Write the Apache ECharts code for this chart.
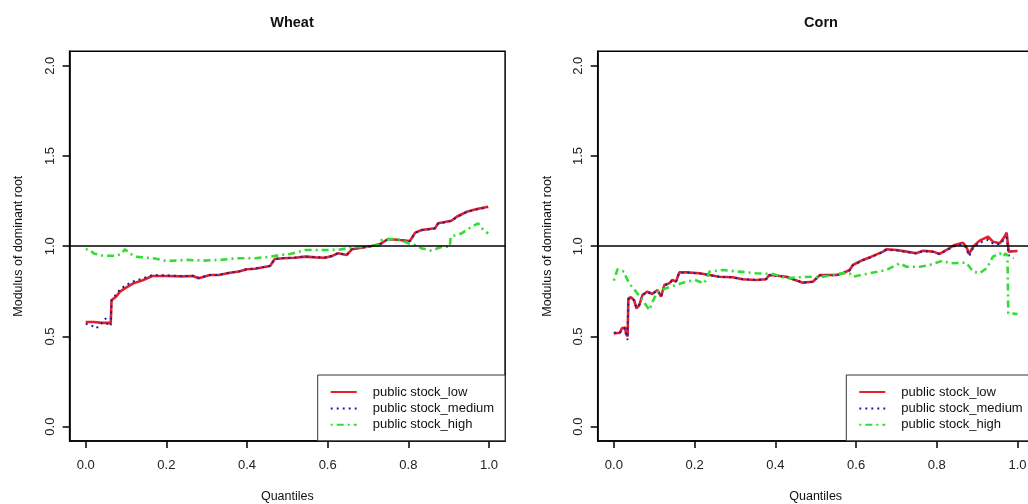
<!DOCTYPE html>
<html>
<head>
<meta charset="utf-8">
<script src="https://cdn.jsdelivr.net/npm/echarts@6/dist/echarts.min.js"></script>
<style>
  html, body { margin: 0; padding: 0; background: #fff; }
  #main { width: 1028px; height: 504px; }
</style>
</head>
<body>
<div id="main"></div>
<script>
// tick positions
var xTicks = [0, 0.2, 0.4, 0.6, 0.8, 1.0];
var yTicks = [0, 0.5, 1.0, 1.5, 2.0];
var seriesNames = ['public stock_low', 'public stock_medium', 'public stock_high'];

// Wheat panel
var wheatLowQ = [0, 0.02, 0.04, 0.062, 0.064, 0.075, 0.085, 0.10, 0.118, 0.14, 0.165, 0.20, 0.24, 0.266, 0.28, 0.308, 0.33, 0.358, 0.38, 0.40, 0.42, 0.44, 0.457, 0.469, 0.49, 0.52, 0.544, 0.57, 0.593, 0.61, 0.626, 0.647, 0.66, 0.68, 0.709, 0.73, 0.75, 0.779, 0.804, 0.817, 0.833, 0.866, 0.874, 0.907, 0.92, 0.945, 0.97, 0.998];
var wheatLowV = [0.58, 0.58, 0.575, 0.575, 0.70, 0.72, 0.748, 0.77, 0.794, 0.81, 0.835, 0.835, 0.833, 0.835, 0.822, 0.84, 0.84, 0.853, 0.86, 0.872, 0.875, 0.883, 0.89, 0.929, 0.933, 0.936, 0.942, 0.938, 0.936, 0.945, 0.961, 0.951, 0.983, 0.99, 1.001, 1.012, 1.04, 1.034, 1.029, 1.075, 1.09, 1.099, 1.127, 1.141, 1.163, 1.191, 1.206, 1.219];

var wheatMedQ = [0, 0.015, 0.025, 0.035, 0.045, 0.05, 0.055, 0.062, 0.064, 0.085, 0.10, 0.118, 0.14, 0.165, 0.20, 0.24, 0.266, 0.28, 0.308, 0.33, 0.358, 0.38, 0.40, 0.42, 0.44, 0.457, 0.469, 0.49, 0.52, 0.544, 0.57, 0.593, 0.61, 0.626, 0.647, 0.66, 0.68, 0.709, 0.73, 0.75, 0.779, 0.804, 0.817, 0.833, 0.866, 0.874, 0.907, 0.92, 0.945, 0.97, 0.998];
var wheatMedV = [0.57, 0.56, 0.545, 0.56, 0.59, 0.60, 0.56, 0.56, 0.70, 0.76, 0.785, 0.805, 0.82, 0.84, 0.838, 0.834, 0.836, 0.824, 0.841, 0.841, 0.854, 0.861, 0.873, 0.876, 0.884, 0.891, 0.93, 0.934, 0.937, 0.943, 0.939, 0.937, 0.946, 0.962, 0.952, 0.984, 0.991, 1.0, 1.011, 1.039, 1.033, 1.028, 1.074, 1.089, 1.098, 1.125, 1.14, 1.161, 1.19, 1.204, 1.215];

var wheatHighQ = [0, 0.01, 0.02, 0.03, 0.044, 0.077, 0.09, 0.097, 0.11, 0.122, 0.168, 0.2, 0.25, 0.29, 0.333, 0.374, 0.42, 0.457, 0.482, 0.507, 0.544, 0.593, 0.626, 0.664, 0.7, 0.725, 0.734, 0.76, 0.78, 0.8, 0.817, 0.833, 0.858, 0.883, 0.903, 0.905, 0.932, 0.957, 0.973, 0.986, 0.998];
var wheatHighV = [0.983, 0.98, 0.96, 0.955, 0.947, 0.947, 0.96, 0.983, 0.96, 0.942, 0.933, 0.918, 0.924, 0.92, 0.924, 0.933, 0.933, 0.942, 0.951, 0.957, 0.979, 0.979, 0.98, 0.994, 0.997, 1.006, 1.034, 1.04, 1.035, 1.016, 1.006, 0.988, 0.975, 0.997, 0.997, 1.053, 1.071, 1.108, 1.127, 1.09, 1.071];

// Corn panel
var cornLowQ = [0, 0.015, 0.02, 0.028, 0.03, 0.034, 0.036, 0.042, 0.05, 0.056, 0.063, 0.071, 0.083, 0.095, 0.108, 0.117, 0.125, 0.137, 0.145, 0.154, 0.162, 0.18, 0.212, 0.237, 0.261, 0.294, 0.319, 0.352, 0.377, 0.385, 0.427, 0.468, 0.493, 0.51, 0.551, 0.567, 0.584, 0.592, 0.617, 0.638, 0.667, 0.675, 0.70, 0.725, 0.749, 0.766, 0.791, 0.807, 0.824, 0.844, 0.865, 0.873, 0.88, 0.89, 0.906, 0.927, 0.939, 0.956, 0.968, 0.973, 0.978, 1.0];
var cornLowV = [0.517, 0.52, 0.545, 0.55, 0.517, 0.50, 0.711, 0.717, 0.702, 0.656, 0.674, 0.73, 0.748, 0.735, 0.757, 0.72, 0.785, 0.794, 0.813, 0.804, 0.855, 0.855, 0.85, 0.84, 0.831, 0.828, 0.817, 0.813, 0.817, 0.84, 0.831, 0.798, 0.803, 0.84, 0.84, 0.85, 0.868, 0.896, 0.924, 0.942, 0.97, 0.983, 0.979, 0.97, 0.961, 0.975, 0.97, 0.957, 0.979, 1.007, 1.019, 0.997, 0.957, 0.997, 1.031, 1.053, 1.025, 1.016, 1.053, 1.075, 0.97, 0.973];

var cornMedQ = [0, 0.015, 0.02, 0.028, 0.03, 0.034, 0.036, 0.042, 0.05, 0.056, 0.063, 0.071, 0.083, 0.095, 0.108, 0.117, 0.125, 0.137, 0.145, 0.154, 0.162, 0.18, 0.212, 0.237, 0.261, 0.294, 0.319, 0.352, 0.377, 0.385, 0.427, 0.468, 0.493, 0.51, 0.551, 0.567, 0.584, 0.592, 0.617, 0.638, 0.667, 0.675, 0.70, 0.725, 0.749, 0.766, 0.791, 0.807, 0.824, 0.844, 0.865, 0.873, 0.88, 0.89, 0.906, 0.927, 0.939, 0.956, 0.968, 0.973, 0.978, 0.99];
var cornMedV = [0.52, 0.52, 0.54, 0.545, 0.515, 0.48, 0.705, 0.715, 0.70, 0.66, 0.675, 0.728, 0.746, 0.735, 0.755, 0.722, 0.783, 0.793, 0.81, 0.804, 0.853, 0.854, 0.849, 0.839, 0.831, 0.827, 0.817, 0.813, 0.817, 0.839, 0.83, 0.799, 0.803, 0.838, 0.839, 0.849, 0.866, 0.894, 0.922, 0.94, 0.968, 0.98, 0.977, 0.968, 0.96, 0.973, 0.968, 0.956, 0.977, 1.0, 1.01, 0.99, 0.945, 0.99, 1.02, 1.035, 1.015, 1.01, 1.04, 1.05, 0.95, 0.933];

var cornHighQ = [0, 0.009, 0.026, 0.03, 0.038, 0.055, 0.071, 0.088, 0.096, 0.108, 0.129, 0.154, 0.179, 0.2, 0.224, 0.237, 0.27, 0.311, 0.352, 0.394, 0.427, 0.46, 0.493, 0.51, 0.567, 0.584, 0.592, 0.633, 0.675, 0.708, 0.725, 0.758, 0.782, 0.815, 0.832, 0.873, 0.89, 0.906, 0.923, 0.939, 0.956, 0.965, 0.97, 0.975, 0.977, 1.0];
var cornHighV = [0.809, 0.872, 0.859, 0.83, 0.794, 0.748, 0.702, 0.646, 0.693, 0.748, 0.767, 0.785, 0.803, 0.813, 0.794, 0.859, 0.868, 0.859, 0.85, 0.846, 0.822, 0.828, 0.831, 0.828, 0.85, 0.85, 0.831, 0.85, 0.868, 0.905, 0.886, 0.886, 0.896, 0.92, 0.905, 0.909, 0.859, 0.85, 0.877, 0.942, 0.961, 0.942, 0.96, 0.95, 0.628, 0.624];

var FONT = '"Liberation Sans", Arial, sans-serif';

function pairs(q, v) {
  var out = [];
  for (var i = 0; i < q.length; i++) {
    out.push([q[i], v[i]]);
  }
  return out;
}

function fmt(v) { return v.toFixed(1); }

function makeX(gi) {
  return {
    type: 'value', gridIndex: gi, min: -0.04, max: 1.04,
    name: 'Quantiles', nameLocation: 'middle', nameGap: 49,
    nameTextStyle: { color: '#111', fontSize: 12.5, fontFamily: FONT },
    axisLine: { show: true, onZero: false, lineStyle: { color: '#000', width: 1.5 } },
    axisTick: { show: true, length: 7, customValues: xTicks, lineStyle: { color: '#000', width: 1.5 } },
    axisLabel: { customValues: xTicks, formatter: fmt, margin: 18, color: '#222', fontSize: 13, fontFamily: FONT },
    splitLine: { show: false }
  };
}

function makeY(gi, gap) {
  return {
    type: 'value', gridIndex: gi, min: -0.08, max: 2.08,
    name: 'Modulus of dominant root', nameLocation: 'middle', nameGap: gap, nameRotate: 90,
    nameTextStyle: { color: '#111', fontSize: 12.5, fontFamily: FONT },
    axisLine: { show: true, onZero: false, lineStyle: { color: '#000', width: 1.5 } },
    axisTick: { show: true, length: 7, customValues: yTicks, lineStyle: { color: '#000', width: 1.5 } },
    axisLabel: { customValues: yTicks, formatter: fmt, rotate: 90, margin: 13, color: '#222', fontSize: 13, fontFamily: FONT },
    splitLine: { show: false }
  };
}

var styles = [
  { color: '#e0202c', width: 2.6, type: 'solid' },
  { color: '#1e1e96', width: 2, type: [2, 4] },
  { color: '#33dd33', width: 2.6, type: [2, 4, 7, 4] }
];

function makeSeries(gi, data) {
  var list = [];
  for (var i = 0; i < data.length; i++) {
    var s = {
      name: seriesNames[i], type: 'line', xAxisIndex: gi, yAxisIndex: gi,
      data: data[i], symbol: 'none', showSymbol: false, animation: false,
      lineStyle: styles[i], itemStyle: { color: styles[i].color }
    };
    if (i == 2) {
      s.markLine = {
        silent: true, symbol: 'none', animation: false,
        label: { show: false },
        lineStyle: { color: '#000', width: 1.5, type: 'solid' },
        data: [{ yAxis: 1 }]
      };
    }
    list.push(s);
  }
  return list;
}

function makeLegend(left) {
  return {
    orient: 'vertical', left: left, top: 375,
    data: seriesNames,
    itemWidth: 26, itemHeight: 12, itemGap: 2.4,
    padding: [10, 11, 9, 12],
    borderColor: '#333', borderWidth: 1, backgroundColor: '#fff',
    selectedMode: false,
    itemStyle: { opacity: 0 },
    textStyle: { color: '#111', fontSize: 13, fontFamily: FONT, lineHeight: 14, padding: [0, 0, 0, 11] }
  };
}

var chart = echarts.init(document.getElementById('main'));

var series = makeSeries(0, [pairs(wheatLowQ, wheatLowV), pairs(wheatMedQ, wheatMedV), pairs(wheatHighQ, wheatHighV)])
  .concat(makeSeries(1, [pairs(cornLowQ, cornLowV), pairs(cornMedQ, cornMedV), pairs(cornHighQ, cornHighV)]));

chart.setOption({
  backgroundColor: '#fff',
  animation: false,
  title: [
    { text: 'Wheat', left: 287, top: 10, textAlign: 'center', textStyle: { fontSize: 14.5, fontWeight: 'bold', color: '#111', fontFamily: FONT } },
    { text: 'Corn', left: 816, top: 10, textAlign: 'center', textStyle: { fontSize: 14.5, fontWeight: 'bold', color: '#111', fontFamily: FONT } }
  ],
  grid: [
    { left: 69.6, top: 51.3, width: 435.5, height: 389.8, show: true, borderColor: '#000', borderWidth: 1.5, outerBoundsMode: 'none' },
    { left: 597.7, top: 51.3, width: 436, height: 389.8, show: true, borderColor: '#000', borderWidth: 1.5, outerBoundsMode: 'none' }
  ],
  legend: [makeLegend(317.7), makeLegend(846.3)],
  xAxis: [makeX(0), makeX(1)],
  yAxis: [makeY(0, 45), makeY(1, 44)],
  series: series
});
</script>
</body>
</html>
